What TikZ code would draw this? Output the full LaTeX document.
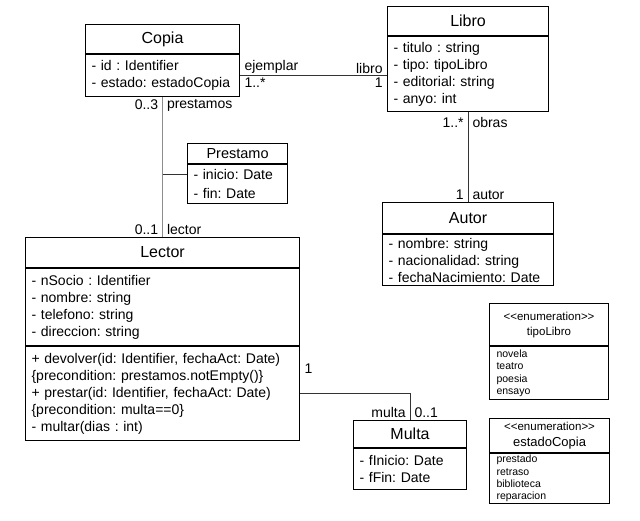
\documentclass[tikz,border=0pt]{standalone}
\usepackage{fontspec}
\setmainfont{Liberation Sans}
\newfontfamily\plainfont{Liberation Sans}
\usetikzlibrary{calc}
\frenchspacing

\tikzset{
  box/.style={draw, line width=1.1pt, anchor=north west, inner sep=0pt},
  ctitle/.style={box, font=\fontsize{16}{19}\selectfont, align=center},
  cbody/.style={box, font=\fontsize{14}{17}\selectfont, align=left, inner xsep=6pt, inner ysep=1pt},
  ebody/.style={box, font=\plainfont\fontsize{10.5}{12.3}\selectfont, align=left, inner xsep=7pt, inner ysep=1pt},
  lbl/.style={font=\fontsize{14}{17}\selectfont, inner xsep=4pt, inner ysep=2pt},
  assoc/.style={draw=black!80, line width=0.9pt},
}

\begin{document}
\begin{tikzpicture}[x=1pt,y=-1pt]

\useasboundingbox (0,0) rectangle (640,520);

% classes
\node[ctitle, minimum width=154, minimum height=29] (copiaT) at (85,24) {Copia};
\node[cbody, text width=142, minimum height=42] (copiaA) at (copiaT.south west)
  {- id : Identifier\\- estado: estadoCopia};

\node[ctitle, minimum width=161, minimum height=29] (libroT) at (387,6) {Libro};
\node[cbody, text width=149, minimum height=75] (libroA) at (libroT.south west)
  {- titulo : string\\- tipo: tipoLibro\\- editorial: string\\- anyo: int};

\node[ctitle, minimum width=100, minimum height=20, font=\fontsize{14.5}{17}\selectfont] (prestamoT) at (187,143) {Prestamo};
\node[cbody, text width=88, minimum height=39, font=\fontsize{14}{19}\selectfont] (prestamoA) at (prestamoT.south west)
  {- inicio: Date\\- fin: Date};

\node[ctitle, minimum width=171, minimum height=31] (autorT) at (382,202) {Autor};
\node[cbody, text width=159, minimum height=51] (autorA) at (autorT.south west)
  {- nombre: string\\- nacionalidad: string\\- fechaNacimiento: Date};

\node[ctitle, minimum width=274, minimum height=30] (lectorT) at (25,237) {Lector};
\node[cbody, text width=262, minimum height=77] (lectorA) at (lectorT.south west)
  {- nSocio : Identifier\\- nombre: string\\- telefono: string\\- direccion: string};
\node[cbody, text width=262, minimum height=94] (lectorO) at (lectorA.south west)
  {+ devolver(id: Identifier, fechaAct: Date)\\\{precondition: prestamos.notEmpty()\}\\+ prestar(id: Identifier, fechaAct: Date)\\\{precondition: multa==0\}\\- multar(dias : int)};

\node[ctitle, minimum width=113, minimum height=27] (multaT) at (353,420) {Multa};
\node[cbody, text width=101, minimum height=41] (multaA) at (multaT.south west)
  {- fInicio: Date\\- fFin: Date};

% enumerations
\node[box, minimum width=119, minimum height=42, align=center, font=\plainfont\fontsize{11.5}{15}\selectfont] (tipoT) at (489,303)
  {<<enumeration>>\\tipoLibro};
\node[ebody, text width=105, minimum height=53] (tipoA) at (tipoT.south west)
  {novela\\teatro\\poesia\\ensayo};

\node[box, minimum width=120, minimum height=34, align=center, font=\plainfont\fontsize{11.5}{15}\selectfont] (estadoT) at (489,418)
  {<<enumeration>>\\[1pt]{\fontsize{13}{15}\selectfont estadoCopia}};
\node[ebody, text width=106, minimum height=50] (estadoA) at (estadoT.south west)
  {prestado\\retraso\\biblioteca\\reparacion};

% associations
\draw[assoc] (copiaA.east) -- (copiaA.east -| libroA.west)
  node[lbl, pos=0, anchor=south west] {ejemplar}
  node[lbl, pos=0, anchor=north west] {1..*}
  node[lbl, pos=1, anchor=south east] {libro}
  node[lbl, pos=1, anchor=north east] {1};

\draw[assoc, draw=black!45] (copiaA.south) -- (lectorT.north)
  node[lbl, pos=0, anchor=north east] {0..3}
  node[lbl, pos=0, anchor=north west] {prestamos}
  node[lbl, pos=1, anchor=south east] {0..1}
  node[lbl, pos=1, anchor=south west] {lector};

\coordinate (prestamoL) at ($(prestamoA.north west)!0.25!(prestamoA.south west)$);
\draw[assoc] (prestamoL) -- (prestamoL -| copiaA.south);

\draw[assoc] (libroA.south) -- (autorT.north)
  node[lbl, pos=0, anchor=north east, yshift=-3] {1..*}
  node[lbl, pos=0, anchor=north west, yshift=-3] {obras}
  node[lbl, pos=1, anchor=south east] {1}
  node[lbl, pos=1, anchor=south west] {autor};

\draw[assoc] (lectorO.east) -| (multaT.north)
  node[lbl, pos=0, anchor=south west, yshift=18] {1}
  node[lbl, pos=1, anchor=south east] {multa}
  node[lbl, pos=1, anchor=south west] {0..1};

\end{tikzpicture}
\end{document}
